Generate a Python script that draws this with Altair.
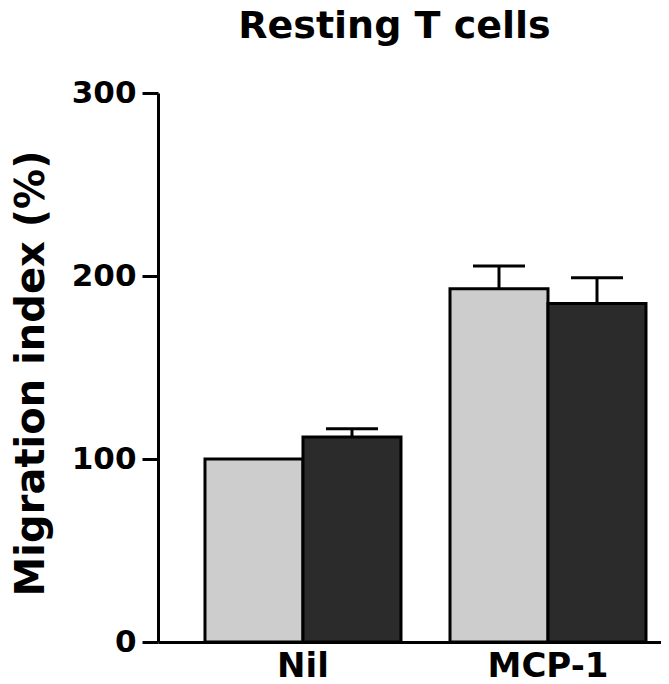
import altair as alt
import pandas as pd

categories = ["Nil", "Nil", "MCP-1", "MCP-1"]
groups = ["Series 1", "Series 2", "Series 1", "Series 2"]
values = [100, 112, 193, 185]
upper = [100, 116.5, 205.5, 199]
y_ticks = [0, 100, 200, 300]

df = pd.DataFrame({"cat": categories, "grp": groups, "val": values, "up": upper})

FONT = "DejaVu Sans"

x_enc = alt.X(
    "cat:N",
    sort=["Nil", "MCP-1"],
    scale=alt.Scale(paddingInner=0.2, paddingOuter=0.1265, align=0.758),
    axis=alt.Axis(
        title=None, labelAngle=0, ticks=False, domainWidth=3, domainColor="black",
        labelFont=FONT, labelFontWeight="bold", labelFontSize=34, labelColor="black",
        labelPadding=7, grid=False,
    ),
)
xo = alt.XOffset("grp:N", scale=alt.Scale(paddingInner=0, paddingOuter=0))

y_scale = alt.Scale(domain=[0, 300], nice=False)

bars = alt.Chart(df).mark_bar(stroke="black", strokeWidth=3).encode(
    x=x_enc,
    xOffset=xo,
    y=alt.Y(
        "val:Q",
        scale=y_scale,
        axis=alt.Axis(
            values=y_ticks, grid=False, tickSize=16, tickWidth=3, tickColor="black",
            domainWidth=3, domainColor="black",
            labelFont=FONT, labelFontWeight="bold", labelFontSize=31, labelColor="black",
            labelPadding=6,
            title="Migration index (%)", titleFont=FONT, titleFontWeight="bold",
            titleFontSize=40, titleColor="black", titleAngle=-90,
            titleX=-115, titleY=280, titleAlign="center", titleBaseline="alphabetic",
        ),
    ),
    color=alt.Color(
        "grp:N",
        scale=alt.Scale(domain=["Series 1", "Series 2"], range=["#cdcdcd", "#2b2b2b"]),
        legend=None,
    ),
)

err_df = alt.Chart(df).transform_filter("datum.up > datum.val")

err_rule = err_df.mark_rule(color="black", strokeWidth=3, opacity=1).encode(
    x=x_enc, xOffset=xo, y=alt.Y("val:Q", scale=y_scale), y2="up:Q"
)
err_cap = err_df.mark_tick(color="black", thickness=3, size=52, opacity=1).encode(
    x=x_enc, xOffset=xo, y=alt.Y("up:Q", scale=y_scale)
)

chart = (
    alt.layer(bars, err_rule, err_cap)
    .properties(
        width=503,
        height=549,
        autosize=alt.AutoSizeParams(type="none"),
        padding={"left": 150, "top": 85, "right": 0, "bottom": 41},
        view=alt.ViewBackground(stroke="transparent", strokeWidth=0),
        title=alt.TitleParams(
            "Resting T cells", font=FONT, fontWeight="bold", fontSize=38,
            color="black", anchor="middle", dx=-15, offset=31,
        ),
    )
    .configure_view(stroke="transparent", strokeWidth=0)
    .configure_axis(grid=False)
    .configure(background="white")
)

chart.save("out.html", embed_options={"renderer": "svg", "actions": False})
